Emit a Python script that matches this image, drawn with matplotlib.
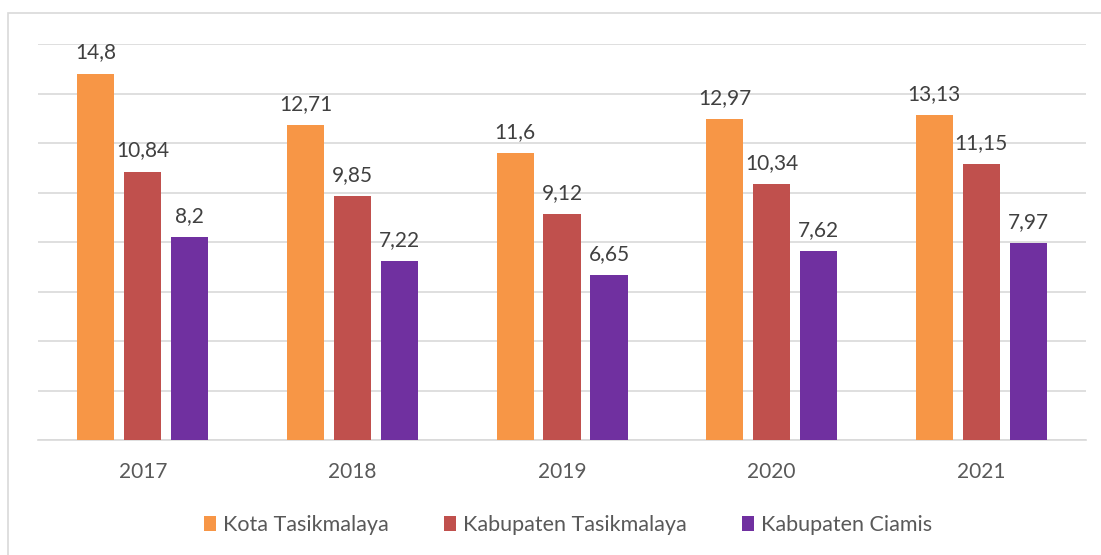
import numpy as np
import matplotlib.pyplot as plt
from matplotlib.patches import Rectangle

years = ['2017', '2018', '2019', '2020', '2021']
series = ['Kota Tasikmalaya', 'Kabupaten Tasikmalaya', 'Kabupaten Ciamis']
kota_tsm = [14.8, 12.71, 11.6, 12.97, 13.13]
kab_tsm = [10.84, 9.85, 9.12, 10.34, 11.15]
kab_ciamis = [8.2, 7.22, 6.65, 7.62, 7.97]
labels = [['14,8', '12,71', '11,6', '12,97', '13,13'],
          ['10,84', '9,85', '9,12', '10,34', '11,15'],
          ['8,2', '7,22', '6,65', '7,62', '7,97']]
colors = ['#F79646', '#C0504D', '#7030A0']

plt.rcParams['font.family'] = ['Lato', 'DejaVu Sans']

W, H = 1101, 555
fig = plt.figure(figsize=(W / 100, H / 100), dpi=100)
# outer chart border (only top/left visible in the reference)
fig.patches.append(Rectangle((8 / W, -0.1), 1.2, 1 - 13 / H + 0.1, transform=fig.transFigure,
                             fill=False, edgecolor='#D9D9D9', linewidth=1.2))

ax = fig.add_axes([38 / W, 1 - 440 / H, (1086 - 38) / W, (440 - 44) / H])
x = np.arange(len(years))
width = 0.177
step = 0.224
for i, (vals, c) in enumerate(zip([kota_tsm, kab_tsm, kab_ciamis], colors)):
    pos = x + (i - 1) * step
    ax.bar(pos, vals, width, color=c, label=series[i], zorder=3)
    for p, v, t in zip(pos, vals, labels[i]):
        ax.text(p, v + 0.45, t, ha='center', va='bottom', fontsize=15, color='#404040')

ax.set_xlim(-0.5, len(years) - 0.5)
ax.set_ylim(0, 16)
ax.set_yticks(np.arange(0, 17, 2))
ax.yaxis.grid(True, color='#D9D9D9', linewidth=1.2, zorder=0)
ax.tick_params(axis='y', left=False, labelleft=False)
ax.tick_params(axis='x', bottom=False, labelsize=15, labelcolor='#595959', pad=12)
ax.set_xticks(x)
ax.set_xticklabels(years)
for s in ['top', 'right', 'left']:
    ax.spines[s].set_visible(False)
ax.spines['bottom'].set_color('#D9D9D9')
ax.spines['bottom'].set_linewidth(1.2)

fig.legend(loc='center', bbox_to_anchor=(568 / W, 1 - 525 / H), ncol=3, frameon=False,
           fontsize=15.5, labelcolor='#595959', handlelength=0.55, handleheight=0.7,
           handletextpad=0.3, columnspacing=2.6)

fig.savefig('out.png', dpi=100)
